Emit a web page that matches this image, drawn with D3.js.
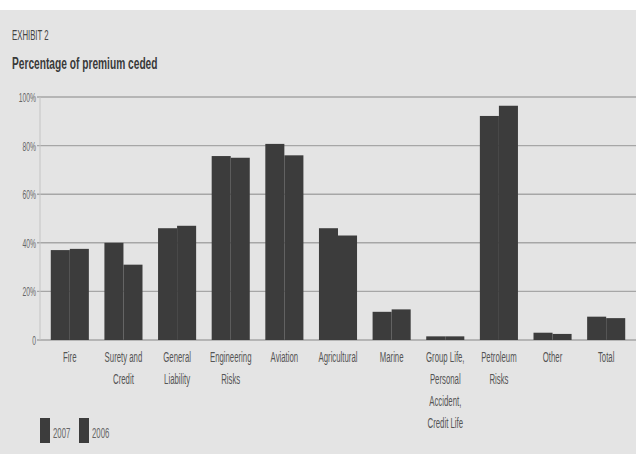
<!DOCTYPE html>
<html><head><meta charset="utf-8">
<script src="https://cdn.jsdelivr.net/npm/d3@7"></script>
<style>
html,body{margin:0;padding:0;background:#fff;}
text{font-family:"Liberation Sans","DejaVu Sans",sans-serif;}
</style></head>
<body>
<script>
const categories = [
  ["Fire"],
  ["Surety and","Credit"],
  ["General","Liability"],
  ["Engineering","Risks"],
  ["Aviation"],
  ["Agricultural"],
  ["Marine"],
  ["Group Life,","Personal","Accident,","Credit Life"],
  ["Petroleum","Risks"],
  ["Other"],
  ["Total"]
];
const series = ["2007","2006"];
const values2007 = [37, 40, 46, 75.7, 80.7, 46, 11.6, 1.5, 92.2, 3, 9.6];
const values2006 = [37.5, 31, 47, 75, 76, 43, 12.6, 1.5, 96.4, 2.5, 9];
const yTicks = [0, 20, 40, 60, 80, 100];
const yTickLabels = ["0", "20%", "40%", "60%", "80%", "100%"];

const W = 636, H = 454;
const svg = d3.select("body").append("svg").attr("width", W).attr("height", H);

svg.append("rect").attr("x",0).attr("y",10).attr("width",W).attr("height",H-10).attr("fill","#e4e4e4");

const keys = categories.map(c=>c.join(" "));
const x = d3.scaleBand().domain(keys).range([43, 633]).paddingInner(0.29).paddingOuter(0.145);
const xs = d3.scaleBand().domain(series).range([0, x.bandwidth()]);
const y = d3.scaleLinear().domain([0, 100]).range([340, 97]);

// condensed text helper
function ctext(parent, tx, ty, str, size, sx, anchor, fill, weight) {
  return parent.append("text")
    .attr("transform", `translate(${tx},${ty}) scale(${sx},1)`)
    .attr("text-anchor", anchor).attr("font-size", size)
    .attr("fill", fill).attr("font-weight", weight || "normal")
    .text(str);
}

// gridlines
svg.append("g").selectAll("line").data(yTicks).join("line")
  .attr("x1", 37).attr("x2", W)
  .attr("y1", d=>y(d)).attr("y2", d=>y(d))
  .attr("stroke", "#a6a6a6").attr("stroke-width", 1.4);

// vertical axis line
svg.append("line").attr("x1",40).attr("x2",40).attr("y1",y(100)).attr("y2",y(0))
  .attr("stroke","#c4c4c4").attr("stroke-width",1);

// y tick labels
const yl = svg.append("g");
yTicks.forEach((d,i)=>ctext(yl, 36, y(d)+5, yTickLabels[i], 13, 0.52, "end", "#666"));

// bars
const data = categories.map((c,i)=>({key:keys[i], v:[values2007[i], values2006[i]]}));
const g = svg.append("g");
data.forEach(d=>{
  g.selectAll(null).data(series.map((s,j)=>({s, v:d.v[j]}))).join("rect")
    .attr("x", e=>x(d.key)+xs(e.s))
    .attr("width", xs.bandwidth())
    .attr("y", e=>y(e.v))
    .attr("height", e=>y(0)-y(e.v))
    .attr("fill", "#3c3c3c");
});

// category labels
const cl = svg.append("g");
categories.forEach((c,i)=>{
  c.forEach((line,k)=>{
    ctext(cl, x(keys[i])+x.bandwidth()/2, 362 + k*22, line, 15, 0.52, "middle", "#555");
  });
});

// titles
ctext(svg, 12, 40, "EXHIBIT 2", 15, 0.52, "start", "#444");
ctext(svg, 12, 69, "Percentage of premium ceded", 17, 0.6, "start", "#3a3a3a", "bold");

// legend
const lg = svg.append("g");
series.forEach((s,i)=>{
  const lx = 40 + i*39;
  lg.append("rect").attr("x",lx).attr("y",418).attr("width",10).attr("height",25).attr("fill","#3c3c3c");
  ctext(lg, lx+13, 438, s, 15, 0.52, "start", "#666");
});
</script>
</body></html>
